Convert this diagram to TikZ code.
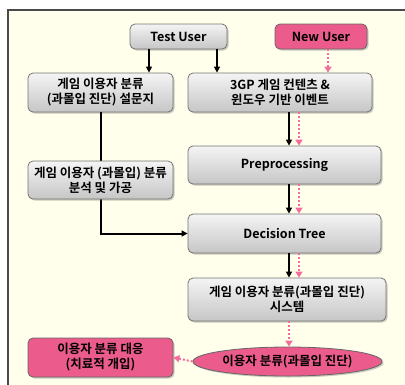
\documentclass[tikz,border=0pt]{standalone}
\usepackage{fontspec}
\setmainfont{Noto Sans CJK KR}[BoldFont={Noto Sans CJK KR Bold}]
\usetikzlibrary{shadows,arrows.meta,shapes.geometric}
\definecolor{cream}{HTML}{FFFFEB}
\definecolor{framec}{HTML}{4A4A4A}
\definecolor{pinkfill}{HTML}{EB5C8C}
\definecolor{pinkline}{HTML}{F26C9C}
\definecolor{boxtop}{HTML}{F4F4F4}
\definecolor{boxbot}{HTML}{C6C6C6}
\tikzset{
  txt/.style={font=\fontsize{12.5}{15}\selectfont\bfseries},
  gbox/.style={draw=black!55, line width=0.8pt, rounded corners=5pt,
    top color=boxtop, bottom color=boxbot, align=center, txt, inner sep=0pt,
    drop shadow={shadow xshift=1.5pt, shadow yshift=-1.5pt, opacity=0.35, fill=black!60}},
  pbox/.style={draw=black!60, line width=0.8pt, rounded corners=5pt,
    fill=pinkfill, align=center, txt, inner sep=0pt,
    drop shadow={shadow xshift=1.5pt, shadow yshift=-1.5pt, opacity=0.35, fill=black!60}},
  arr/.style={draw=black, line width=2pt, -{Triangle[length=6pt,width=6pt]}},
  parr/.style={draw=pinkline, line width=2pt, dash pattern=on 2pt off 2pt, -{Triangle[length=6pt,width=7pt]}},
}
\begin{document}
\begin{tikzpicture}[x=1pt,y=-1pt]
\useasboundingbox (0,0) rectangle (405,384);
\fill[white] (0,0) rectangle (405,384);
\fill[cream] (8,10) rectangle (406,385);
\draw[framec, line width=1.4pt] (8,385) -- (8,10) -- (406,10);

\node[gbox, minimum width=97pt, minimum height=25pt] (testuser) at (178.5,36.5) {Test User};
\node[pbox, minimum width=92pt, minimum height=25pt] (newuser) at (321,36.5) {New User};
\node[gbox, minimum width=145pt, minimum height=39pt] (survey) at (100.5,92.5) {게임 이용자 분류\\(과몰입 진단) 설문지};
\node[gbox, minimum width=184pt, minimum height=39pt] (content) at (280,92.5) {3GP 게임 컨텐츠 \&\\윈도우 기반 이벤트};
\node[gbox, minimum width=193pt, minimum height=38pt] (prep) at (284.5,165) {Preprocessing};
\node[gbox, minimum width=193pt, minimum height=39pt] (dt) at (284.5,233.5) {Decision Tree};
\node[gbox, minimum width=198pt, minimum height=43pt] (system) at (287,299.5) {게임 이용자 분류(과몰입 진단)\\시스템};
\node[ellipse, draw=black!60, line width=0.8pt, fill=pinkfill, minimum width=189pt, minimum height=29pt, inner sep=0pt, txt,
  drop shadow={shadow xshift=1.5pt, shadow yshift=-1.5pt, opacity=0.35, fill=black!60}] (diag) at (287.5,361.5) {이용자 분류(과몰입 진단)};
\node[pbox, minimum width=145pt, minimum height=39pt] (treat) at (100.5,357.5) {이용자 분류 대응\\(치료적 개입)};

\draw[arr] (survey.south) |- (dt.west);
\node[gbox, minimum width=145pt, minimum height=38pt] (analysis) at (100.5,180) {게임 이용자 (과몰입) 분류\\분석 및 가공};

\draw[arr] ([xshift=-29.5pt]testuser.south) -- ([xshift=-29.5pt]testuser.south |- survey.north);
\draw[arr] ([xshift=38.5pt]testuser.south) -- ([xshift=38.5pt]testuser.south |- content.north);
\draw[parr] ([xshift=7pt]newuser.south) -- ([xshift=7pt]newuser.south |- content.north);

\draw[arr] ([xshift=9pt]content.south) -- ([xshift=9pt]content.south |- prep.north);
\draw[parr] ([xshift=19pt]content.south) -- ([xshift=19pt]content.south |- prep.north);
\draw[arr] ([xshift=4.5pt]prep.south) -- ([xshift=4.5pt]prep.south |- dt.north);
\draw[parr] ([xshift=14.5pt]prep.south) -- ([xshift=14.5pt]prep.south |- dt.north);
\draw[arr] ([xshift=4.5pt]dt.south) -- ([xshift=4.5pt]dt.south |- system.north);
\draw[parr] ([xshift=14.5pt]dt.south) -- ([xshift=14.5pt]dt.south |- system.north);
\draw[parr] ([xshift=2pt]system.south) -- ([xshift=2pt]system.south |- diag.north);
\draw[parr] (diag.west) -- (treat.east);
\end{tikzpicture}
\end{document}
